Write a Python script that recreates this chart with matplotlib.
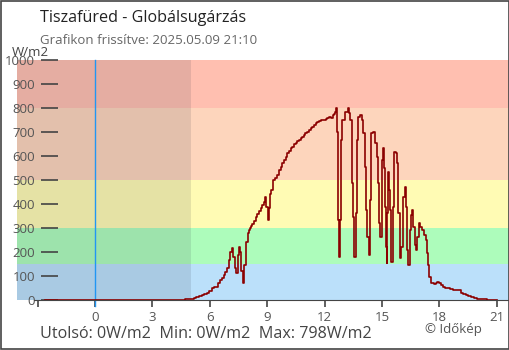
import matplotlib.pyplot as plt
from matplotlib.patches import Rectangle

plt.rcParams['font.family'] = ['Open Sans', 'DejaVu Sans']

title = "Tiszafüred - Globálsugárzás"
subtitle = "Grafikon frissítve: 2025.05.09 21:10"
footer = "Utolsó: 0W/m2  Min: 0W/m2  Max: 798W/m2"
credit = "© Időkép"
unit = "W/m2"

# hours relative to midnight of the current day, W/m2
hours = [-2.6, 4.7, 5.0, 5.15, 5.3, 5.45, 5.6, 5.72, 5.85, 5.97, 6.1, 6.22, 6.35, 6.45,
         6.55, 6.63, 6.72, 6.8, 6.9, 7.0, 7.08, 7.15,
         7.22, 7.3, 7.37, 7.45, 7.52, 7.58, 7.65, 7.72, 7.8, 7.88, 7.97, 8.04, 8.1, 8.16,
         8.22, 8.3, 8.4, 8.48, 8.57, 8.65, 8.74, 8.82, 8.9, 8.96, 9.02, 9.08, 9.14, 9.22,
         9.32, 9.42, 9.53, 9.62, 9.7, 9.79, 9.88, 9.96, 10.05, 10.14, 10.22, 10.31, 10.4,
         10.5, 10.58, 10.66, 10.75, 10.83, 10.92, 11.0, 11.1, 11.18, 11.27, 11.36, 11.45,
         11.53, 11.62, 11.7, 11.8, 11.9, 12.0, 12.06, 12.15, 12.24, 12.34, 12.42, 12.48,
         12.54, 12.59, 12.64,
         12.68, 12.72, 12.76, 12.8, 12.86, 12.92, 13.05, 13.2, 13.28, 13.35, 13.42,
         13.5, 13.56, 13.62, 13.7, 13.76, 13.85, 13.95, 14.03, 14.1, 14.18, 14.24,
         14.3, 14.37, 14.45, 14.55, 14.64, 14.72, 14.8, 14.86, 14.92, 14.98, 15.02,
         15.07, 15.12, 15.16, 15.2, 15.24, 15.28, 15.32, 15.36, 15.42, 15.49, 15.55,
         15.62, 15.73, 15.8, 15.85, 15.92, 15.96, 16.02, 16.1, 16.18, 16.25, 16.32,
         16.38, 16.45, 16.5, 16.56, 16.63, 16.7, 16.77, 16.82, 16.92, 17.0, 17.1,
         17.22, 17.3, 17.36, 17.42, 17.48, 17.55, 17.7, 17.8, 17.88, 18.0, 18.1, 18.18,
         18.3, 18.4, 18.55, 18.7, 19.0, 19.14, 19.25, 19.4, 19.52, 19.66, 19.8, 19.97,
         20.2, 20.5, 21.0]
radiation = [0, 3, 4, 7, 11, 15, 21, 24, 28, 38, 49, 53, 56, 70,
             83, 93, 104, 118, 132, 165, 201, 218,
             180, 135, 111, 187, 220, 200, 120, 72, 146, 243, 278, 290, 300, 310,
             318, 330, 345, 358, 370, 383, 395, 410, 428, 389, 333, 382, 440, 460,
             500, 510, 521, 540, 555, 569, 583, 597, 611, 622, 632, 639, 648,
             655, 661, 667, 674, 681, 688, 694, 702, 708, 715, 722, 729,
             736, 741, 747, 750, 750, 750, 756, 760, 764, 760, 770, 775,
             785, 798, 701,
             500, 333, 180, 333, 667, 750, 783, 798, 778, 750, 486,
             347, 180, 361, 667, 764, 771, 750, 694, 556, 375, 264,
             187, 417, 694, 701, 653, 597, 486, 319, 264, 458, 583,
             632, 549, 389, 222, 153, 361, 535, 458, 375, 160, 389,
             618, 611, 569, 361, 278, 174, 222, 430, 472, 389, 208,
             146, 292, 354, 375, 306, 229, 208, 264, 319, 306, 292,
             271, 250, 194, 146, 97, 72, 67, 72, 76, 69, 62, 56,
             52, 49, 45, 42, 42, 28, 24, 21, 16, 11, 8, 5,
             3, 0, 0]

band_edges = [0, 150, 300, 500, 800, 1000]
band_colors = ["#bbe0fa", "#adfcbb", "#fffbb4", "#fdd5bc", "#ffbfb0"]
night_end = 5.02
y_ticks = [0, 100, 200, 300, 400, 500, 600, 700, 800, 900, 1000]
x_ticks = [-3, 0, 3, 6, 9, 12, 15, 18, 21]
x_labels = ["", "0", "3", "6", "9", "12", "15", "18", "21"]

fig = plt.figure(figsize=(5.1, 3.5), dpi=100)
ax = fig.add_axes([17 / 510, 50 / 350, 492 / 510, 240 / 350])
ax.set_xlim(-4.08, 21.64)
ax.set_ylim(0, 1000)

for lo, hi, c in zip(band_edges[:-1], band_edges[1:], band_colors):
    ax.axhspan(lo, hi, color=c, lw=0, zorder=0)
ax.axvspan(-4.08, night_end, color="#2a3040", alpha=0.12, lw=0, zorder=1)
ax.axvline(0, ymin=-0.025, ymax=1, color="#2196f3", lw=1, clip_on=False, zorder=2)

ax.plot(hours, radiation, drawstyle="steps-post", color="#8b0000", lw=1.2, zorder=3)

for s in ["top", "right"]:
    ax.spines[s].set_visible(False)
ax.spines["left"].set_position(("outward", -17))
ax.spines["left"].set_color("none")
ax.spines["bottom"].set_color("#444444")
ax.spines["bottom"].set_bounds(-3.2, 21.64)

ax.set_yticks(y_ticks)
ax.set_xticks(x_ticks)
ax.set_xticklabels(x_labels)
ax.tick_params(axis="y", direction="in", length=12, width=1.2, color="#444444",
               labelcolor="#555555", labelsize=9.5, pad=4)
ax.tick_params(axis="x", direction="out", length=5, width=1.2, color="#444444",
               labelcolor="#555555", labelsize=9.5, pad=3)

fig.text(40 / 510, 1 - 18 / 350, title, fontsize=11.6, color="#222222", va="center")
fig.text(40 / 510, 1 - 41 / 350, subtitle, fontsize=9.5, color="#666666", va="center")
fig.text(12 / 510, 1 - 52 / 350, unit, fontsize=9.5, color="#444444", va="center")
fig.text(40 / 510, 1 - 334 / 350, footer, fontsize=11.6, color="#444444", va="center")
fig.text(425 / 510, 1 - 330 / 350, credit, fontsize=9.5, color="#555555", va="center")

fig.add_artist(Rectangle((0.001, 0.0015), 0.998, 0.997, transform=fig.transFigure,
                         fill=False, edgecolor="#444444", lw=1.2))

fig.savefig("out.png", dpi=100)
